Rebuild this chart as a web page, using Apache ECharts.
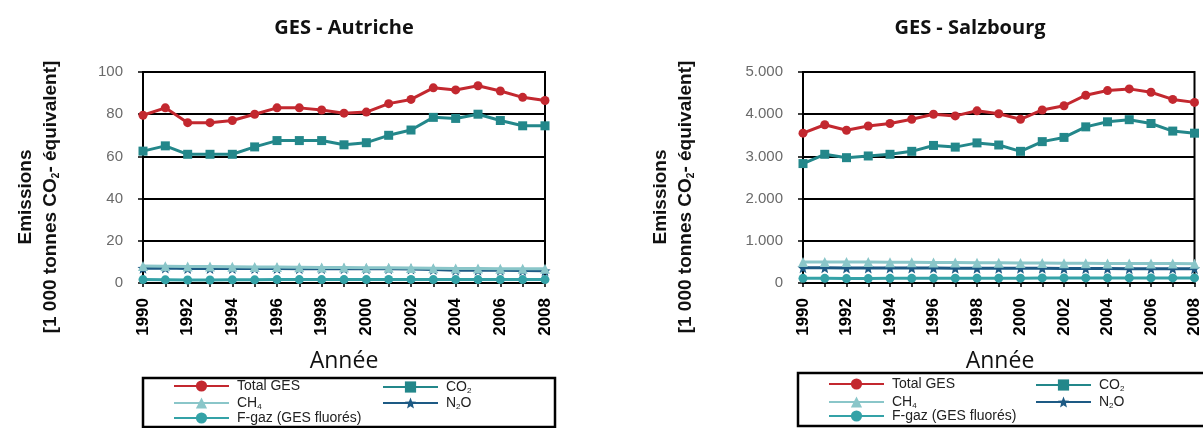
<!DOCTYPE html>
<html>
<head>
<meta charset="utf-8">
<script src="https://cdn.jsdelivr.net/npm/echarts@6/dist/echarts.min.js"></script>
<style>
  html, body { margin: 0; padding: 0; background: #fff; }
  #chart { width: 1203px; height: 428px; }
</style>
</head>
<body>
<div id="chart"></div>
<script>
// Years on the category axis
const years = ['1990','1991','1992','1993','1994','1995','1996','1997','1998','1999',
               '2000','2001','2002','2003','2004','2005','2006','2007','2008'];

// Austria, million t CO2-eq
const atTotal = [79.5, 83, 76, 76, 77, 80, 83, 83, 82, 80.5, 81, 85, 87, 92.5, 91.5, 93.5, 91, 88, 86.5];
const atCO2   = [62.5, 65, 61, 61, 61, 64.5, 67.5, 67.5, 67.5, 65.5, 66.5, 70, 72.5, 78.5, 78, 80, 77, 74.5, 74.5];
const atCH4   = [8.0, 7.9, 7.8, 7.8, 7.7, 7.6, 7.6, 7.5, 7.4, 7.3, 7.2, 7.2, 7.1, 7.0, 6.9, 6.9, 6.8, 6.8, 6.8];
const atN2O   = [7.0, 7.1, 6.9, 6.9, 6.9, 6.9, 6.9, 6.8, 6.8, 6.8, 6.7, 6.7, 6.6, 6.4, 6.1, 6.0, 6.0, 5.9, 5.8];
const atFgas  = [1.6, 1.5, 1.4, 1.4, 1.5, 1.5, 1.6, 1.6, 1.6, 1.6, 1.6, 1.7, 1.7, 1.6, 1.6, 1.6, 1.6, 1.6, 1.6];

// Salzburg, 1 000 t CO2-eq
const sbTotal = [3550, 3750, 3620, 3720, 3780, 3880, 4000, 3960, 4080, 4010, 3880, 4100, 4200, 4450, 4560, 4600, 4520, 4350, 4280];
const sbCO2   = [2830, 3050, 2970, 3010, 3050, 3120, 3260, 3220, 3320, 3270, 3120, 3350, 3450, 3700, 3820, 3870, 3780, 3600, 3550];
const sbCH4   = [500, 500, 495, 495, 490, 490, 485, 485, 480, 480, 475, 475, 470, 470, 465, 465, 460, 460, 455];
const sbN2O   = [360, 360, 355, 355, 355, 355, 355, 350, 350, 350, 350, 350, 345, 345, 345, 340, 340, 340, 340];
const sbFgas  = [110, 110, 105, 105, 110, 110, 115, 115, 115, 115, 115, 120, 120, 120, 120, 120, 120, 120, 120];

// Y-axis scales
const atAxis = { min: 0, max: 100, interval: 20 };
const sbAxis = { min: 0, max: 5000, interval: 1000 };

const seriesNames = ['Total GES', 'CO2', 'CH4', 'N2O', 'F-gaz (GES fluorés)'];
const colors = {
  'Total GES': '#c3282f',
  'CO2': '#23878a',
  'CH4': '#8ac6c9',
  'N2O': '#1d5a84',
  'F-gaz (GES fluorés)': '#34a2a7'
};
const starPath = 'path://M0,-10 L2.6,-3.4 L9.5,-3.1 L4.1,1.3 L5.9,8.1 L0,4.3 L-5.9,8.1 L-4.1,1.3 L-9.5,-3.1 L-2.6,-3.4 Z';
const symbols = {
  'Total GES': 'circle',
  'CO2': 'rect',
  'CH4': 'triangle',
  'N2O': starPath,
  'F-gaz (GES fluorés)': 'circle'
};

const chart = echarts.init(document.getElementById('chart'), null, { renderer: 'canvas' });

const thousands = v => String(v).replace(/\B(?=(\d{3})+(?!\d))/g, '.');
const subLabel = n => ({ 'CO2': 'CO{s|2}', 'CH4': 'CH{s|4}', 'N2O': 'N{s|2}O' }[n] || n);

function makeXAxis(gridIndex) {
  return {
    type: 'category', gridIndex, data: years, boundaryGap: false,
    axisLine: { lineStyle: { color: '#000', width: 2 } },
    axisTick: { show: true, interval: 0, length: 4, lineStyle: { color: '#000', width: 1.5 } },
    axisLabel: {
      interval: 1, rotate: 90, margin: 15,
      fontFamily: 'Liberation Sans', fontWeight: 'bold', fontSize: 17, color: '#000'
    },
    splitLine: { show: false }
  };
}
function makeYAxis(gridIndex, scale, fmt) {
  return {
    type: 'value', gridIndex, min: scale.min, max: scale.max, interval: scale.interval,
    axisLine: { show: true, lineStyle: { color: '#000', width: 2 } },
    axisTick: { show: true, length: 5, lineStyle: { color: '#000', width: 1.5 } },
    axisLabel: { margin: 20, fontFamily: 'Liberation Sans', fontSize: 15, color: '#6a6a6a', formatter: fmt },
    splitLine: { show: true, lineStyle: { color: '#000', width: 2 } }
  };
}

const dataSets = [
  [atTotal, atCO2, atCH4, atN2O, atFgas],
  [sbTotal, sbCO2, sbCH4, sbN2O, sbFgas]
];
const series = [];
dataSets.forEach((set, gi) => {
  seriesNames.forEach((name, si) => {
    series.push({
      name, type: 'line', xAxisIndex: gi, yAxisIndex: gi, data: set[si],
      symbol: symbols[name], symbolSize: name === 'N2O' ? 11 : (name === 'CH4' ? 10 : 9),
      lineStyle: { color: colors[name], width: 3 },
      itemStyle: { color: colors[name] },
      z: 10 - si,
      animation: false
    });
  });
});

// Legend entries: two columns, three rows, inside a framed box under each chart
function makeLegends(col1, col2, rows) {
  const pos = [
    ['Total GES', col1, rows[0]], ['CO2', col2, rows[0]],
    ['CH4', col1, rows[1]], ['N2O', col2, rows[1]],
    ['F-gaz (GES fluorés)', col1, rows[2]]
  ];
  return pos.map(([name, x, y]) => ({
    data: [name], left: x, top: y - 7, padding: 0,
    itemWidth: 55, itemHeight: 14, selectedMode: false,
    formatter: subLabel,
    textStyle: {
      fontFamily: 'Liberation Sans Narrow, Liberation Sans', fontSize: 14, color: '#222',
      padding: [0, 0, 0, 3], lineHeight: 16,
      rich: { s: { fontSize: 8, verticalAlign: 'bottom', lineHeight: 16, padding: [9, 0, 0, 0],
                   fontFamily: 'Liberation Sans Narrow, Liberation Sans', color: '#222' } }
    }
  }));
}

const yTitleRich = { s: { fontSize: 10, fontWeight: 'bold', padding: [12, 0, 0, 0], fill: '#111',
                          fontFamily: 'Liberation Sans' } };
function yTitle(x) {
  return {
    type: 'text', x, y: 197, rotation: Math.PI / 2,
    style: {
      text: 'Emissions\n[1 000 tonnes CO{s|2}- équivalent]',
      font: 'bold 19px "Liberation Sans"', fill: '#111',
      align: 'center', verticalAlign: 'middle', lineHeight: 25,
      rich: yTitleRich
    }
  };
}
function centered(text, x, y, font) {
  return { type: 'text', x, y, style: { text, font, fill: '#111', align: 'center', verticalAlign: 'middle' } };
}

chart.setOption({
  animation: false,
  grid: [
    { left: 143, top: 72, width: 402, height: 211, show: true, borderColor: '#000', borderWidth: 2 },
    { left: 803, top: 72, width: 394, height: 211, show: true, borderColor: '#000', borderWidth: 2 }
  ],
  xAxis: [makeXAxis(0), makeXAxis(1)],
  yAxis: [makeYAxis(0, atAxis, v => String(v)), makeYAxis(1, sbAxis, thousands)],
  legend: [].concat(makeLegends(173, 382, [385, 401, 417]), makeLegends(828, 1035, [383, 400, 415])),
  series,
  graphic: [
    centered('GES - Autriche', 344, 28, 'bold 20px "Open Sans"'),
    centered('GES - Salzbourg', 970, 28, 'bold 20px "Open Sans"'),
    centered('Année', 344, 361, '23px "Open Sans"'),
    centered('Année', 1000, 361, '23px "Open Sans"'),
    yTitle(38),
    yTitle(673),
    { type: 'rect', shape: { x: 143, y: 378, width: 412, height: 49 },
      style: { fill: 'none', stroke: '#000', lineWidth: 2.5 } },
    { type: 'rect', shape: { x: 798, y: 373, width: 420, height: 53 },
      style: { fill: 'none', stroke: '#000', lineWidth: 2.5 } }
  ]
});
</script>
</body>
</html>
